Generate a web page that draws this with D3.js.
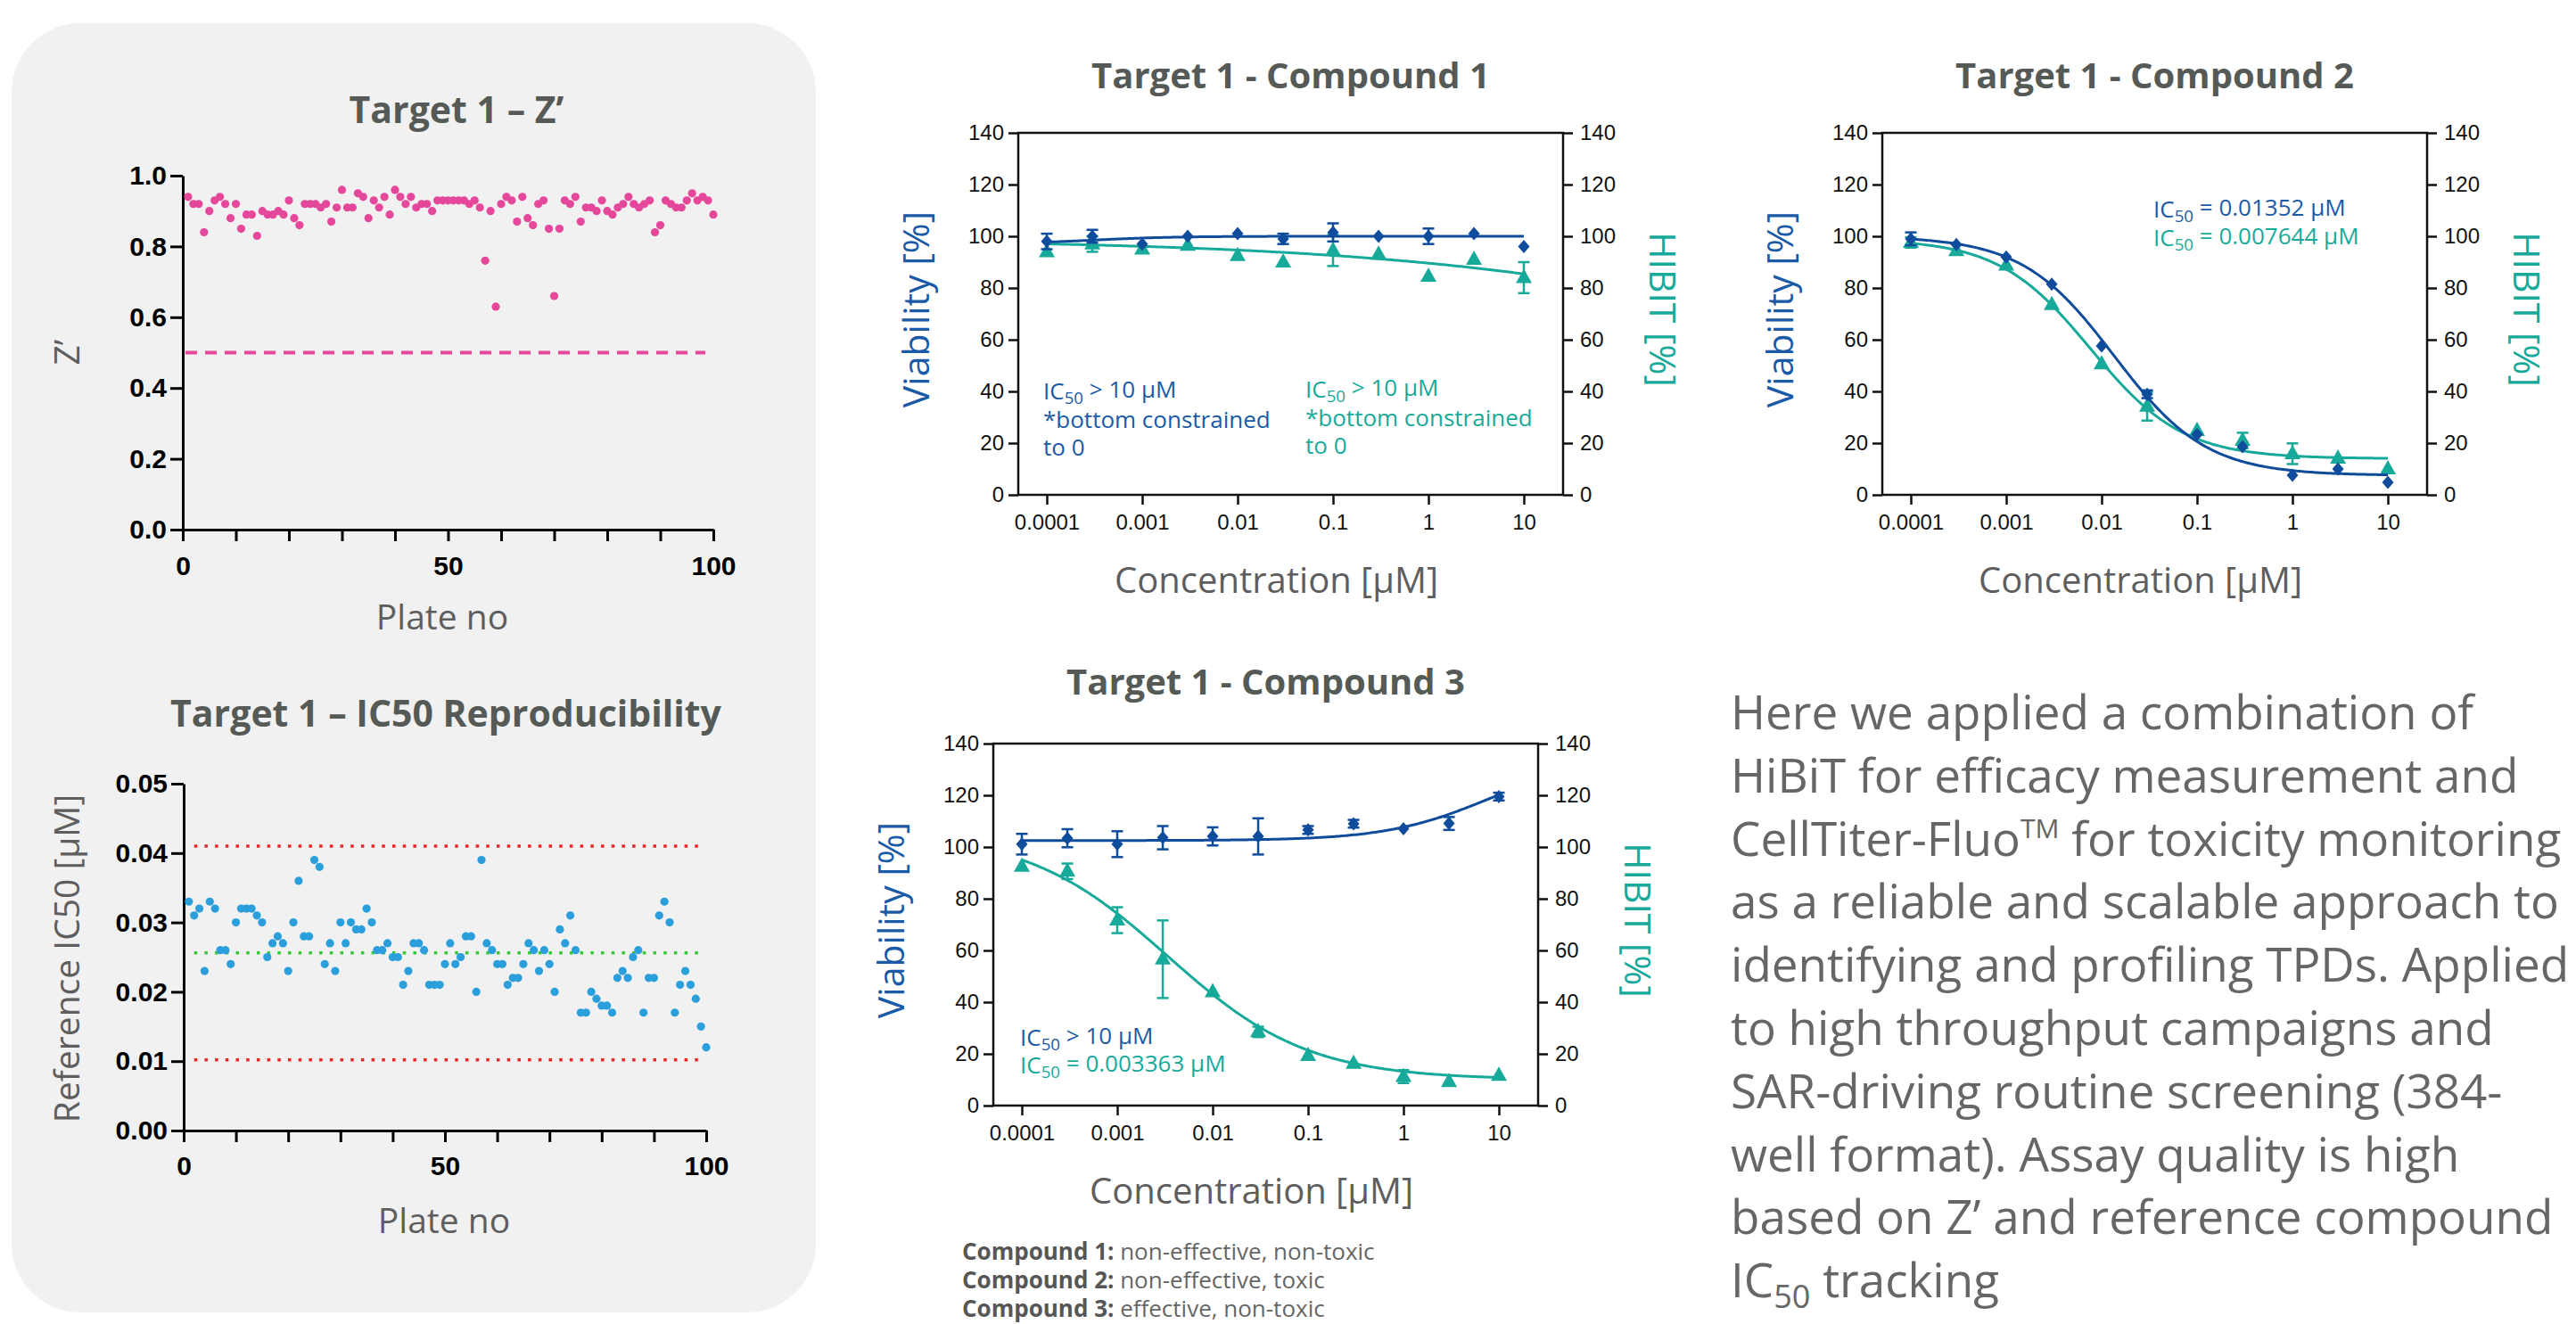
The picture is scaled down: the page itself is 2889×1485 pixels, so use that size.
<!DOCTYPE html>
<html>
<head>
<meta charset="utf-8">
<script src="https://cdn.jsdelivr.net/npm/d3@7"></script>
<style>
body { margin: 0; background: #fff; }
svg { display: block; }
.ttl { font-family: "Open Sans", sans-serif; font-weight: 700; fill: #565a56; }
.lbl { font-family: "Open Sans", sans-serif; fill: #5e5e5e; }
.bold-axis text { font-family: "Liberation Sans", Arial, sans-serif; font-weight: 700; font-size: 30px; fill: #000; }
.bold-axis path, .bold-axis line { stroke: #000; stroke-width: 3; }
.thin-axis text { font-family: "Liberation Sans", Arial, sans-serif; font-size: 24px; fill: #111; }
.thin-axis line { stroke: #111; stroke-width: 2.5; }
.thin-axis path { display: none; }
</style>
</head>
<body>
<svg id="fig" width="2889" height="1485"></svg>
<script>
// ---- data ----
var zPrime = [
    .94, .92, .92, .84, .90, .93, .94, .92, .88, .92,
    .85, .89, .89, .83, .90, .89, .89, .90, .89, .93,
    .88, .86, .92, .92, .92, .91, .92, .87, .91, .96,
    .91, .91, .95, .94, .88, .93, .91, .94, .89, .96,
    .94, .92, .94, .91, .92, .92, .90, .93, .93, .93,
    .93, .93, .93, .92, .93, .91, .76, .90, .63, .92,
    .94, .93, .87, .94, .88, .86, .92, .93, .85, .66,
    .85, .93, .92, .94, .87, .91, .91, .90, .93, .90,
    .89, .91, .92, .94, .92, .91, .92, .93, .84, .86,
    .93, .92, .91, .91, .93, .95, .93, .94, .93, .89
];
var zPrimeCutoff = 0.5;

var refIC50 = [
    .033, .031, .032, .023, .033, .032, .026, .026, .024, .030,
    .032, .032, .032, .031, .030, .025, .027, .028, .027, .023,
    .030, .036, .028, .028, .039, .038, .024, .027, .023, .030,
    .027, .030, .029, .029, .032, .030, .026, .026, .027, .025,
    .025, .021, .023, .027, .027, .026, .021, .021, .021, .024,
    .027, .024, .025, .028, .028, .020, .039, .027, .026, .024,
    .024, .021, .022, .022, .024, .027, .026, .023, .026, .024,
    .020, .029, .027, .031, .026, .017, .017, .020, .019, .018,
    .018, .017, .022, .023, .022, .025, .026, .017, .022, .022,
    .031, .033, .030, .017, .021, .023, .021, .019, .015, .012
];
var refLimits = [0.041, 0.0102];
var refMean = 0.0256;

var conc = [0.0001, 0.0003, 0.001, 0.003, 0.01, 0.03, 0.1, 0.3, 1, 3, 10];
var concTicks = [0.0001, 0.001, 0.01, 0.1, 1, 10];
var concTickLabels = ["0.0001", "0.001", "0.01", "0.1", "1", "10"];
var pctTicks = [0, 20, 40, 60, 80, 100, 120, 140];

// fit params: [top, bottom, IC50, hill]
var c1Viab = [98, 100, 97, 100, 101, 99, 101.5, 100, 100, 101, 96];
var c1ViabErr = [3, 2.5, 0, 0, 0, 2, 3.5, 0, 3, 0, 0];
var c1ViabFit = [97, 100, 0.0003, 1];
var c1Hibit = [94, 97, 95, 96.5, 92.5, 90, 94.5, 93, 84.5, 91, 84];
var c1HibitErr = [0, 3, 0, 0, 0, 0, 6, 0, 0, 0, 6];
var c1HibitFit = [99, 0, 274000, 0.18];

var c2Viab = [99, 96.8, 92, 81.5, 57.6, 38.9, 23.4, 18.6, 7.6, 10, 4.8];
var c2ViabErr = [2.5, 0, 0, 0, 0, 1.5, 0, 0, 0, 0, 0];
var c2ViabFit = [100, 7.5, 0.01352, 0.9];
var c2Hibit = [97.6, 94.4, 88.8, 73.5, 50.6, 34.2, 24.8, 21, 15.9, 14.1, 10];
var c2HibitErr = [2, 0, 0, 0, 0, 5.5, 0, 3, 4, 0, 0];
var c2HibitFit = [99, 14, 0.007644, 0.9];

var c3Viab = [101.1, 103.4, 101.1, 103.6, 104.1, 104.1, 106.6, 109, 107.1, 109.1, 119.5];
var c3ViabErr = [4, 3.5, 5, 4.5, 3.5, 7, 1.5, 1.5, 0, 2.5, 1.5];
var c3ViabFit = [102.5, 135, 8, 0.8];
var c3Hibit = [92.5, 90.6, 71.7, 56.6, 44, 28.5, 19.3, 16.3, 11.2, 9.2, 11.6];
var c3HibitErr = [0, 3, 5, 15, 0, 2, 0, 0, 2.5, 0, 0];
var c3HibitFit = [105.7, 10, 0.003363, 0.59];

var compoundNotes = [
    ["Compound 1:", " non-effective, non-toxic"],
    ["Compound 2:", " non-effective, toxic"],
    ["Compound 3:", " effective, non-toxic"]
];

var pink = "#e5479b", sky = "#2b9fdc", red = "#ec2424", green = "#35c935",
    navy = "#0f4c9c", navyText = "#1a5aa6", teal = "#17aa9a";

var svg = d3.select("#fig");

// grey panel behind left charts
svg.append("rect")
    .attr("x", 13).attr("y", 26)
    .attr("width", 902).attr("height", 1446)
    .attr("rx", 77)
    .attr("fill", "#f1f1f1");

function sub(text, parts) {
    // parts: [[string, isSub, isBack], ...]
    parts.forEach(function (p) {
        var t = text.append("tspan").text(p[0]);
        if (p[1]) t.attr("font-size", "0.72em").attr("dy", "0.27em");
        else if (p[2]) t.attr("dy", "-0.27em");
    });
}

// ---- Target 1 – Z' ----
(function () {
    var x = d3.scaleLinear().domain([0, 100]).range([205, 800]);
    var y = d3.scaleLinear().domain([0, 1]).range([594, 197]);

    svg.append("g").attr("class", "bold-axis")
        .attr("transform", "translate(0,594)")
        .call(d3.axisBottom(x).tickValues(d3.range(0, 101, 10))
            .tickFormat(function (d) { return d % 50 === 0 ? d : ""; })
            .tickSize(13).tickSizeOuter(0).tickPadding(17));

    svg.append("g").attr("class", "bold-axis")
        .attr("transform", "translate(205,0)")
        .call(d3.axisLeft(y).tickValues(d3.range(0, 1.01, 0.2))
            .tickFormat(d3.format(".1f"))
            .tickSize(14).tickSizeOuter(0).tickPadding(4));

    svg.append("line")
        .attr("x1", x(0.5)).attr("x2", x(98.5))
        .attr("y1", y(zPrimeCutoff)).attr("y2", y(zPrimeCutoff))
        .attr("stroke", pink).attr("stroke-width", 4)
        .attr("stroke-dasharray", "13 9");

    svg.append("g").selectAll("circle")
        .data(zPrime)
        .enter().append("circle")
        .attr("cx", function (d, i) { return x(i + 1); })
        .attr("cy", function (d) { return y(d); })
        .attr("r", 4.6)
        .attr("fill", pink);

    svg.append("text").attr("class", "ttl")
        .attr("x", 512).attr("y", 138)
        .attr("text-anchor", "middle").style("font-size", "41px")
        .text("Target 1 – Z’");

    svg.append("text").attr("class", "lbl")
        .attr("x", 496).attr("y", 706)
        .attr("text-anchor", "middle").style("font-size", "39px")
        .text("Plate no");

    svg.append("text").attr("class", "lbl")
        .attr("transform", "translate(73,395) rotate(-90)")
        .attr("text-anchor", "middle").attr("dominant-baseline", "central")
        .style("font-size", "39px")
        .text("Z’");
})();

// ---- Target 1 – IC50 Reproducibility ----
(function () {
    var x = d3.scaleLinear().domain([0, 100]).range([206, 792]);
    var y = d3.scaleLinear().domain([0, 0.05]).range([1268, 879]);

    svg.append("g").attr("class", "bold-axis")
        .attr("transform", "translate(0,1268)")
        .call(d3.axisBottom(x).tickValues(d3.range(0, 101, 10))
            .tickFormat(function (d) { return d % 50 === 0 ? d : ""; })
            .tickSize(13).tickSizeOuter(0).tickPadding(16));

    svg.append("g").attr("class", "bold-axis")
        .attr("transform", "translate(206,0)")
        .call(d3.axisLeft(y).tickValues(d3.range(0, 0.0501, 0.01))
            .tickFormat(d3.format(".2f"))
            .tickSize(14).tickSizeOuter(0).tickPadding(4));

    refLimits.concat([refMean]).forEach(function (v, i) {
        svg.append("line")
            .attr("x1", x(2)).attr("x2", x(99))
            .attr("y1", y(v)).attr("y2", y(v))
            .attr("stroke", i < 2 ? red : green).attr("stroke-width", 3.5)
            .attr("stroke-dasharray", "3.5 8.2");
    });

    svg.append("g").selectAll("circle")
        .data(refIC50)
        .enter().append("circle")
        .attr("cx", function (d, i) { return x(i + 1); })
        .attr("cy", function (d) { return y(d); })
        .attr("r", 4.6)
        .attr("fill", sky);

    svg.append("text").attr("class", "ttl")
        .attr("x", 500).attr("y", 815)
        .attr("text-anchor", "middle").style("font-size", "41px")
        .text("Target 1 – IC50 Reproducibility");

    svg.append("text").attr("class", "lbl")
        .attr("x", 498).attr("y", 1383)
        .attr("text-anchor", "middle").style("font-size", "39px")
        .text("Plate no");

    svg.append("text").attr("class", "lbl")
        .attr("transform", "translate(73,1075) rotate(-90)")
        .attr("text-anchor", "middle").attr("dominant-baseline", "central")
        .style("font-size", "39px")
        .text("Reference IC50 [µM]");
})();

// ---- dose-response panels ----
function logistic(p) {
    return function (c) { return p[1] + (p[0] - p[1]) / (1 + Math.pow(c / p[2], p[3])); };
}

function drawCompound(o) {
    var w = 611, h = 406;
    var x = d3.scaleLog().domain([1e-4, 10]).range([o.left + 32, o.left + 567]);
    var y = d3.scaleLinear().domain([0, 140]).range([o.top + h, o.top]);
    var g = svg.append("g");

    g.append("g").attr("class", "thin-axis")
        .attr("transform", "translate(" + o.left + ",0)")
        .call(d3.axisLeft(y).tickValues(pctTicks).tickSize(11).tickSizeOuter(0).tickPadding(5));
    g.append("g").attr("class", "thin-axis")
        .attr("transform", "translate(" + (o.left + w) + ",0)")
        .call(d3.axisRight(y).tickValues(pctTicks).tickSize(11).tickSizeOuter(0).tickPadding(8));
    g.append("g").attr("class", "thin-axis")
        .attr("transform", "translate(0," + (o.top + h) + ")")
        .call(d3.axisBottom(x).tickValues(concTicks)
            .tickFormat(function (d, i) { return concTickLabels[i]; })
            .tickSize(11).tickSizeOuter(0).tickPadding(11));

    g.append("rect")
        .attr("x", o.left).attr("y", o.top)
        .attr("width", w).attr("height", h)
        .attr("fill", "none").attr("stroke", "#111").attr("stroke-width", 2.5);

    var curveX = d3.range(-4, 1.0001, 0.02).map(function (e) { return Math.pow(10, e); });
    var line = d3.line()
        .x(function (d) { return x(d[0]); })
        .y(function (d) { return y(d[1]); });

    var series = [
        { vals: o.hibit, err: o.hibitErr, fit: o.hibitFit, color: teal,
          shape: "M0,-10L9,6L-9,6Z" },
        { vals: o.viab, err: o.viabErr, fit: o.viabFit, color: navy,
          shape: "M0,-7.5L6.5,0L0,7.5L-6.5,0Z" }
    ];

    series.forEach(function (s) {
        var f = logistic(s.fit);
        g.append("path")
            .attr("d", line(curveX.map(function (c) { return [c, f(c)]; })))
            .attr("fill", "none").attr("stroke", s.color).attr("stroke-width", 3);

        var eb = g.append("g").attr("stroke", s.color).attr("stroke-width", 2.5);
        s.vals.forEach(function (v, i) {
            var e = s.err[i];
            if (!e) return;
            var cx = x(conc[i]);
            eb.append("line").attr("x1", cx).attr("x2", cx)
                .attr("y1", y(v - e)).attr("y2", y(v + e));
            [v - e, v + e].forEach(function (yy) {
                eb.append("line").attr("x1", cx - 6.5).attr("x2", cx + 6.5)
                    .attr("y1", y(yy)).attr("y2", y(yy));
            });
        });

        g.append("g").selectAll("path")
            .data(s.vals)
            .enter().append("path")
            .attr("d", s.shape)
            .attr("transform", function (d, i) { return "translate(" + x(conc[i]) + "," + y(d) + ")"; })
            .attr("fill", s.color);
    });

    var cx = o.left + w / 2;
    g.append("text").attr("class", "ttl")
        .attr("x", cx).attr("y", o.titleY)
        .attr("text-anchor", "middle").style("font-size", "40px")
        .text(o.title);

    g.append("text").attr("class", "lbl")
        .attr("x", cx - 16).attr("y", o.top + h + 110)
        .attr("text-anchor", "middle").style("font-size", "40px")
        .text("Concentration [µM]");

    g.append("text").attr("class", "lbl")
        .attr("transform", "translate(" + (o.left - 116) + "," + (o.top + h / 2 - 5) + ") rotate(-90)")
        .attr("text-anchor", "middle").attr("dominant-baseline", "central")
        .style("font-size", "41px").style("fill", navyText)
        .text("Viability [%]");

    g.append("text").attr("class", "lbl")
        .attr("transform", "translate(" + (o.left + w + 113) + "," + (o.top + h / 2 - 5) + ") rotate(90)")
        .attr("text-anchor", "middle").attr("dominant-baseline", "central")
        .style("font-size", "41px").style("fill", teal)
        .text("HIBIT [%]");

    o.notes.forEach(function (n) {
        var t = g.append("text").attr("class", "lbl")
            .attr("x", n.x).attr("y", n.y)
            .style("font-size", "26px").style("fill", n.color);
        sub(t, n.parts);
    });
}

drawCompound({
    left: 1142, top: 149, titleY: 99, title: "Target 1 - Compound 1",
    viab: c1Viab, viabErr: c1ViabErr, viabFit: c1ViabFit,
    hibit: c1Hibit, hibitErr: c1HibitErr, hibitFit: c1HibitFit,
    notes: [
        { x: 1170, y: 448, color: navyText, parts: [["IC"], ["50", true], [" > 10 µM", false, true]] },
        { x: 1170, y: 480, color: navyText, parts: [["*bottom constrained"]] },
        { x: 1170, y: 511, color: navyText, parts: [["to 0"]] },
        { x: 1464, y: 446, color: teal, parts: [["IC"], ["50", true], [" > 10 µM", false, true]] },
        { x: 1464, y: 478, color: teal, parts: [["*bottom constrained"]] },
        { x: 1464, y: 509, color: teal, parts: [["to 0"]] }
    ]
});

drawCompound({
    left: 2111, top: 149, titleY: 99, title: "Target 1 - Compound 2",
    viab: c2Viab, viabErr: c2ViabErr, viabFit: c2ViabFit,
    hibit: c2Hibit, hibitErr: c2HibitErr, hibitFit: c2HibitFit,
    notes: [
        { x: 2415, y: 244, color: navyText, parts: [["IC"], ["50", true], [" = 0.01352 µM", false, true]] },
        { x: 2415, y: 276, color: teal, parts: [["IC"], ["50", true], [" = 0.007644 µM", false, true]] }
    ]
});

drawCompound({
    left: 1114, top: 834, titleY: 779, title: "Target 1 - Compound 3",
    viab: c3Viab, viabErr: c3ViabErr, viabFit: c3ViabFit,
    hibit: c3Hibit, hibitErr: c3HibitErr, hibitFit: c3HibitFit,
    notes: [
        { x: 1144, y: 1173, color: navyText, parts: [["IC"], ["50", true], [" > 10 µM", false, true]] },
        { x: 1144, y: 1204, color: teal, parts: [["IC"], ["50", true], [" = 0.003363 µM", false, true]] }
    ]
});

// compound legend notes
compoundNotes.forEach(function (n, i) {
    var t = svg.append("text").attr("class", "lbl")
        .attr("x", 1079).attr("y", 1413 + i * 32)
        .style("font-size", "26px");
    t.append("tspan").style("font-weight", 700).style("fill", "#565656").text(n[0]);
    t.append("tspan").style("fill", "#666").text(n[1]);
});

// description paragraph
var paraLines = [
    [["Here we applied a combination of"]],
    [["HiBiT for efficacy measurement and"]],
    [["CellTiter-Fluo"], ["TM", "sup"], [" for toxicity monitoring", "back"]],
    [["as a reliable and scalable approach to"]],
    [["identifying and profiling TPDs. Applied"]],
    [["to high throughput campaigns and"]],
    [["SAR-driving routine screening (384-"]],
    [["well format). Assay quality is high"]],
    [["based on Z’ and reference compound"]],
    [["IC"], ["50", "sub"], [" tracking", "up"]]
];
paraLines.forEach(function (parts, i) {
    var t = svg.append("text").attr("class", "lbl")
        .attr("x", 1941).attr("y", 818 + i * 70.8)
        .style("font-size", "53px").style("fill", "#666");
    parts.forEach(function (p) {
        var s = t.append("tspan").text(p[0]);
        if (p[1] === "sup") s.attr("font-size", "30px").attr("dy", -20);
        if (p[1] === "back") s.attr("dy", 20);
        if (p[1] === "sub") s.attr("font-size", "36px").attr("dy", 12);
        if (p[1] === "up") s.attr("dy", -12);
    });
});
</script>
</body>
</html>
